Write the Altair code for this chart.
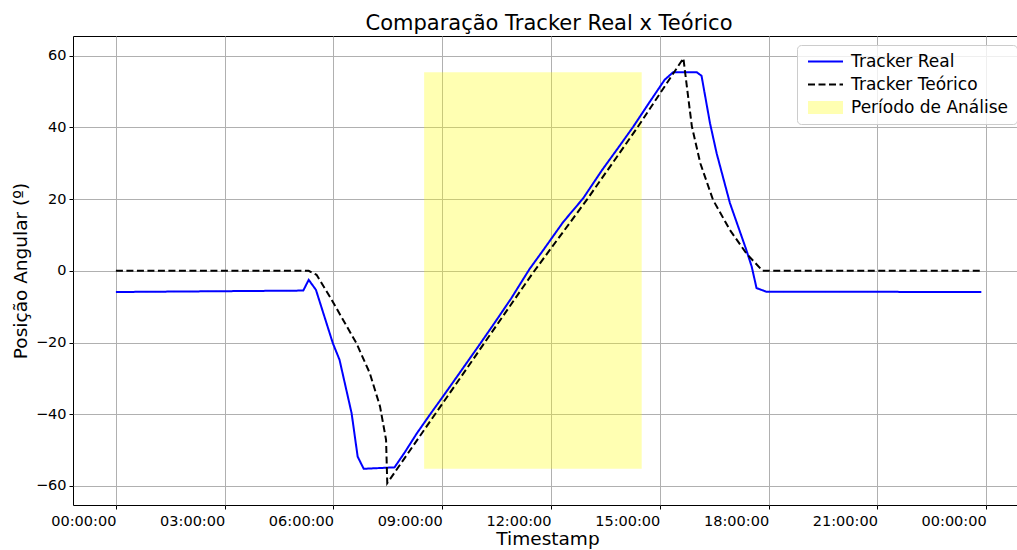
import altair as alt
import pandas as pd

DIA = "2024-01-01"

# Tracker real: horário (HH:MM) e posição angular (graus)
real_hora = [
    "00:00", "05:10", "05:19", "05:31", "05:59", "06:10", "06:30", "06:40",
    "06:50", "07:41", "07:58", "08:18", "08:40", "09:03", "09:29", "10:02",
    "10:27", "10:54", "11:24", "11:48", "12:20", "12:53", "13:24", "13:54",
    "14:16", "14:42", "15:08", "15:22", "16:01", "16:09", "16:23", "16:34",
    "16:56", "17:23", "17:32", "17:40", "17:56", "23:52",
]
real_angulo = [
    -5.9, -5.5, -2.5, -5.3, -20.2, -24.8, -39.7, -51.8,
    -55.2, -54.8, -50.6, -45.3, -40.0, -34.6, -28.4, -20.5,
    -14.4, -7.7, 0.4, 6.0, 13.6, 20.2, 28.0, 35.0,
    40.2, 46.8, 53.3, 55.4, 55.4, 54.4, 41.2, 32.8,
    18.9, 5.9, 1.2, -4.8, -5.8, -5.9,
]

# Tracker teórico
teorico_hora = [
    "00:00", "05:19", "05:32", "05:54", "06:16", "06:38", "07:00", "07:17",
    "07:27", "07:29", "09:30", "11:29", "13:00", "14:23", "15:39", "15:44",
    "15:53", "16:07", "16:28", "16:56", "17:23", "17:50", "23:52",
]
teorico_angulo = [
    0.0, 0.0, -1.1, -7.2, -13.7, -20.2, -28.5, -37.8,
    -47.1, -59.2, -29.8, -0.8, 20.0, 40.0, 59.3, 52.4,
    40.3, 30.0, 19.8, 11.4, 4.9, 0.0, 0.0,
]

# Período de análise
analise_inicio = "08:30"
analise_fim = "14:30"

series = ["Tracker Real", "Tracker Teórico", "Período de Análise"]
cores = ["#0000ff", "#000000", "transparent"]
tracos = [[1, 0], [7, 3.5], [1, 0]]
cor_periodo = "#ffff00"


def ts(hhmm):
    return f"{DIA}T{hhmm}:00"


real = pd.DataFrame({
    "Timestamp": [ts(h) for h in real_hora],
    "Angulo": real_angulo,
    "Serie": series[0],
})
teorico = pd.DataFrame({
    "Timestamp": [ts(h) for h in teorico_hora],
    "Angulo": teorico_angulo,
    "Serie": series[1],
})
periodo = pd.DataFrame({
    "inicio": [ts(analise_inicio)],
    "fim": [ts(analise_fim)],
    "ymin": [min(real_angulo)],
    "ymax": [max(real_angulo)],
    "Periodo": [series[2]],
})

FONT = "DejaVu Sans"

ticks_x = [alt.DateTime(year=2024, month=1, date=1, hours=h) for h in range(0, 24, 3)]
ticks_x.append(alt.DateTime(year=2024, month=1, date=2, hours=0))

x_scale = alt.Scale(domain=[
    alt.DateTime(year=2023, month=12, date=31, hours=22, minutes=49),
    alt.DateTime(year=2024, month=1, date=2, hours=0, minutes=51),
])
y_scale = alt.Scale(domain=[-65.3, 65.5], nice=False, zero=False)

x_axis = alt.Axis(
    title="Timestamp", format="%H:%M:%S", values=ticks_x,
    labelAlign="right", labelPadding=5, titleX=474.5, titleY=39.5,
    titleBaseline="alphabetic", titleAlign="center",
    labelFlush=False, labelOverlap=False,
)
y_axis = alt.Axis(
    title="Posição Angular (º)", values=[-60, -40, -20, 0, 20, 40, 60],
    labelExpr="datum.value < 0 ? '\u2212' + abs(datum.value) : datum.label",
    labelPadding=3, titleX=-47, titleBaseline="alphabetic", titleAngle=270,
)

LEG_X, LEG_Y = 724, 9
LEG_PAD, LEG_ROW, LEG_FONT = 8, 5, 17
legenda_comum = dict(
    title=None, orient="none", legendX=LEG_X,
    labelFontSize=LEG_FONT, labelFont=FONT, labelLimit=400,
    symbolSize=100, padding=LEG_PAD, rowPadding=LEG_ROW,
    symbolOffset=12, labelOffset=17,
)

# legenda das linhas (com a moldura)
legenda_linhas = alt.Legend(
    legendY=LEG_Y, labelColor="black",
    symbolType="M-3.5,0H3.5", symbolStrokeWidth=2,
    fillColor="rgba(255,255,255,0.8)", strokeColor="#cccccc", cornerRadius=4,
    zindex=1, **legenda_comum,
)
# retângulo do período sobre a terceira entrada
legenda_periodo = alt.Legend(
    legendY=LEG_Y + 2 * (LEG_FONT + 1 + LEG_ROW), labelOpacity=0,
    symbolType="M-3.5,-1.3H3.5V1.3H-3.5Z", symbolOpacity=0.3, symbolStrokeWidth=0,
    zindex=2, **legenda_comum,
)

cor = alt.Color("Serie:N", scale=alt.Scale(domain=series, range=cores), legend=legenda_linhas)
traco = alt.StrokeDash("Serie:N", scale=alt.Scale(domain=series, range=tracos), legend=legenda_linhas)

faixa = alt.Chart(periodo).mark_rect(opacity=0.3, strokeWidth=0).encode(
    x=alt.X("inicio:T", scale=x_scale, axis=x_axis),
    x2="fim:T",
    y=alt.Y("ymin:Q", scale=y_scale, axis=y_axis),
    y2="ymax:Q",
    fill=alt.Fill("Periodo:N", scale=alt.Scale(domain=[series[2]], range=[cor_periodo]),
                  legend=legenda_periodo),
)

linha_real = alt.Chart(real).mark_line(strokeWidth=2).encode(
    x=alt.X("Timestamp:T", scale=x_scale, axis=x_axis),
    y=alt.Y("Angulo:Q", scale=y_scale, axis=y_axis),
    color=cor,
    strokeDash=traco,
)

linha_teorico = alt.Chart(teorico).mark_line(strokeWidth=2).encode(
    x=alt.X("Timestamp:T", scale=x_scale, axis=x_axis),
    y=alt.Y("Angulo:Q", scale=y_scale, axis=y_axis),
    color=cor,
    strokeDash=traco,
)

chart = (
    alt.layer(faixa, linha_real, linha_teorico)
    .properties(
        width=944,
        height=469,
        autosize=alt.AutoSizeParams(type="none"),
        padding={"left": 73, "top": 36, "right": 0, "bottom": 45},
        title=alt.TitleParams(
            "Comparação Tracker Real x Teórico", fontSize=21, font=FONT,
            fontWeight="normal", color="black", anchor="middle", frame="group",
            offset=7, baseline="alphabetic", dx=4, dy=22,
        ),
    )
    .configure(background="white")
    .configure_view(stroke="black", strokeWidth=1)
    .configure_axis(
        domain=False, grid=True, gridColor="#b0b0b0", gridWidth=1,
        tickColor="black", tickSize=4, tickWidth=1,
        labelFont=FONT, labelFontSize=14.5, labelColor="black",
        titleFont=FONT, titleFontSize=18.5, titleFontWeight="normal", titleColor="black",
    )
)

chart.save("out.html", embed_options={"renderer": "svg", "actions": False})
